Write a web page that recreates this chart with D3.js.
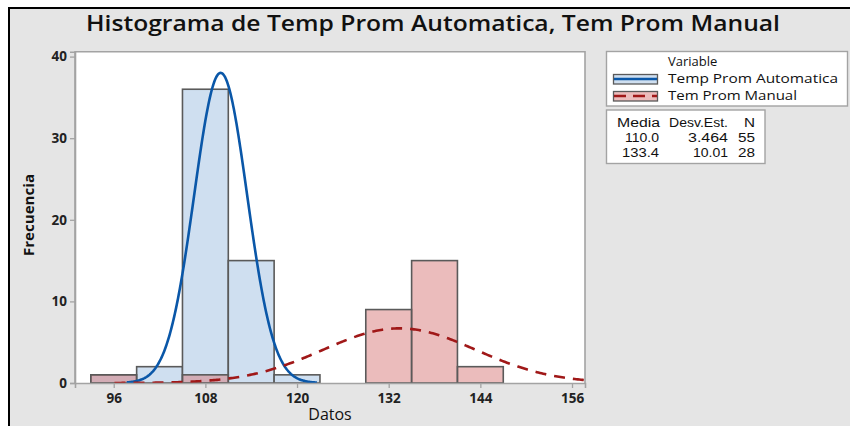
<!DOCTYPE html>
<html><head><meta charset="utf-8">
<script src="https://cdn.jsdelivr.net/npm/d3@7"></script>
<style>html,body{margin:0;padding:0;background:#fff;}svg{display:block;}</style>
</head><body><svg id="c" width="850" height="426"></svg>
<script>
// ---- data ----
const binLower = [93, 99, 105, 111, 117, 123, 129, 135, 141];
const binUpper = [99, 105, 111, 117, 123, 129, 135, 141, 147];
const autoCounts = [1, 2, 36, 15, 1, 0, 0, 0, 0];
const manualCounts = [1, 0, 1, 0, 0, 0, 9, 15, 2];
const seriesNames = ["Temp Prom Automatica", "Tem Prom Manual"];
const means = [110.0, 133.4];
const sds = [3.464, 10.01];
const ns = [55, 28];
const curveFrom = [97.7, 96.1];
const curveTo = [122.6, 158];
const xTicks = [96, 108, 120, 132, 144, 156];
const yTicks = [0, 10, 20, 30, 40];
const tableHeader = ["Media", "Desv.Est.", "N"];
const tableRows = [["110.0", "3.464", "55"], ["133.4", "10.01", "28"]];

const svg = d3.select("#c");
const font = "'Open Sans', 'Noto Sans', sans-serif";
const tfont = "'Liberation Sans', Arial, sans-serif";

// background + border
svg.append("rect").attr("x", 0).attr("y", 0).attr("width", 850).attr("height", 426).attr("fill", "#fff");
svg.append("rect").attr("x", 9).attr("y", 8).attr("width", 841).attr("height", 418).attr("fill", "#e5e5e5");
svg.append("line").attr("x1", 8).attr("x2", 850).attr("y1", 8).attr("y2", 8).attr("stroke", "#000").attr("stroke-width", 2);
svg.append("line").attr("x1", 9).attr("x2", 9).attr("y1", 7).attr("y2", 426).attr("stroke", "#000").attr("stroke-width", 2);

const L = 75, R = 585, T = 51.7, B = 383;
const x = d3.scaleLinear().domain([90.93, 157.7]).range([L, R]);
const y = d3.scaleLinear().domain([0, 40.6]).range([B, T]);

svg.append("rect").attr("x", L).attr("y", T).attr("width", R - L).attr("height", B - T).attr("fill", "#fff");

svg.append("defs").append("clipPath").attr("id", "clip")
  .append("rect").attr("x", L).attr("y", T - 30).attr("width", R - L).attr("height", B - T + 30);

const g = svg.append("g").attr("clip-path", "url(#clip)");

// bars
const binIdx = d3.range(binLower.length);
g.selectAll("rect.auto").data(binIdx.filter(i => autoCounts[i] > 0)).join("rect")
  .attr("class", "auto")
  .attr("x", i => x(binLower[i])).attr("width", i => x(binUpper[i]) - x(binLower[i]))
  .attr("y", i => y(autoCounts[i])).attr("height", i => y(0) - y(autoCounts[i]))
  .attr("fill", "#cfdff0").attr("stroke", "#5a5a5a").attr("stroke-width", 1.6);
g.selectAll("rect.man").data(binIdx.filter(i => manualCounts[i] > 0)).join("rect")
  .attr("class", "man")
  .attr("x", i => x(binLower[i])).attr("width", i => x(binUpper[i]) - x(binLower[i]))
  .attr("y", i => y(manualCounts[i])).attr("height", i => y(0) - y(manualCounts[i]))
  .attr("fill", "rgb(215,121,121)").attr("fill-opacity", 0.5)
  .attr("stroke", "#5a5a5a").attr("stroke-width", 1.6);

// fitted normal curves from the table statistics
const binW = binUpper[0] - binLower[0];
function curvePts(k) {
  const pts = [];
  const steps = 300;
  for (let s = 0; s <= steps; s++) {
    const v = curveFrom[k] + (curveTo[k] - curveFrom[k]) * s / steps;
    const z = (v - means[k]) / sds[k];
    pts.push([v, ns[k] * binW / (sds[k] * Math.sqrt(2 * Math.PI)) * Math.exp(-0.5 * z * z)]);
  }
  return pts;
}
const line = d3.line().x(d => x(d[0])).y(d => y(d[1])).curve(d3.curveLinear);
g.append("path").attr("d", line(curvePts(0))).attr("fill", "none")
  .attr("stroke", "#0a57a8").attr("stroke-width", 2.6);
g.append("path").attr("d", line(curvePts(1))).attr("fill", "none")
  .attr("stroke", "#a01818").attr("stroke-width", 2.6).attr("stroke-dasharray", "11,8");

// frame
svg.append("path").attr("d", `M${L},${B}V${T}H${R}V${B}`).attr("fill", "none").attr("stroke", "#a3a3a3").attr("stroke-width", 1.6);

// axes
const xAxis = svg.append("g").attr("transform", `translate(0,${B})`)
  .call(d3.axisBottom(x).tickValues(xTicks).tickSize(5).tickPadding(5));
const yAxis = svg.append("g").attr("transform", `translate(${L},0)`)
  .call(d3.axisLeft(y).tickValues(yTicks).tickSize(5).tickPadding(3));
[xAxis, yAxis].forEach(a => {
  a.select(".domain").attr("stroke", "#a3a3a3").attr("stroke-width", 1.6);
  a.selectAll(".tick line").attr("stroke", "#a3a3a3").attr("stroke-width", 1.3);
  a.selectAll(".tick text").attr("font-family", font).attr("font-size", 13.5)
    .attr("font-weight", "bold").attr("fill", "#222");
});

// title
svg.append("text").attr("x", 86).attr("y", 31).attr("font-family", font).attr("font-size", 22)
  .attr("font-weight", 600).attr("fill", "#111")
  .attr("textLength", 694).attr("lengthAdjust", "spacingAndGlyphs")
  .text("Histograma de Temp Prom Automatica, Tem Prom Manual");

// axis titles
svg.append("text").attr("x", 330).attr("y", 420).attr("text-anchor", "middle")
  .attr("font-family", font).attr("font-size", 16).attr("fill", "#111").text("Datos");
svg.append("text").attr("transform", "translate(34,215) rotate(-90)").attr("text-anchor", "middle")
  .attr("font-family", font).attr("font-size", 14).attr("font-weight", "bold").attr("fill", "#111")
  .attr("textLength", 82).attr("lengthAdjust", "spacingAndGlyphs").text("Frecuencia");

// legend
svg.append("rect").attr("x", 606.5).attr("y", 51.5).attr("width", 241).attr("height", 54.5)
  .attr("fill", "#fff").attr("stroke", "#a3a3a3").attr("stroke-width", 1.4);
svg.append("text").attr("x", 668).attr("y", 66).attr("font-family", font).attr("font-size", 13)
  .attr("fill", "#111").text("Variable");
const legY = [79, 96];
const legFill = ["#cfdff0", "#ebbcbc"];
const legStroke = ["#0a57a8", "#a01818"];
const legDash = [null, "12,7"];
const legLen = [170, 129];
seriesNames.forEach((nm, i) => {
  svg.append("rect").attr("x", 613.5).attr("y", legY[i] - 4.5).attr("width", 44).attr("height", 9.5)
    .attr("fill", legFill[i]).attr("stroke", "#5a5a5a").attr("stroke-width", 1.3);
  svg.append("line").attr("x1", 614).attr("x2", 657).attr("y1", legY[i]).attr("y2", legY[i])
    .attr("stroke", legStroke[i]).attr("stroke-width", 2.6).attr("stroke-dasharray", legDash[i]);
  svg.append("text").attr("x", 668).attr("y", legY[i] + 4).attr("font-family", font).attr("font-size", 13)
    .attr("fill", "#111").attr("textLength", legLen[i]).attr("lengthAdjust", "spacingAndGlyphs").text(nm);
});

// stats table
svg.append("rect").attr("x", 606.5).attr("y", 110).attr("width", 158.5).attr("height", 53.5)
  .attr("fill", "#fff").attr("stroke", "#a3a3a3").attr("stroke-width", 1.4);
const colRight = [660, 728, 755];
const headLen = [43, 59, 11];
const rowLen = [[34, 40, 17], [37, 35, 17]];
tableHeader.forEach((h, j) => {
  svg.append("text").attr("x", colRight[j]).attr("y", 127).attr("text-anchor", "end")
    .attr("font-family", tfont).attr("font-size", 12.5).attr("fill", "#111")
    .attr("textLength", headLen[j]).attr("lengthAdjust", "spacingAndGlyphs").text(h);
});
tableRows.forEach((row, r) => {
  row.forEach((v, j) => {
    svg.append("text").attr("x", colRight[j] - (j === 0 ? 1 : 0)).attr("y", 142 + r * 15).attr("text-anchor", "end")
      .attr("font-family", tfont).attr("font-size", 12.5).attr("fill", "#111")
      .attr("textLength", rowLen[r][j]).attr("lengthAdjust", "spacingAndGlyphs").text(v);
  });
});
</script>
</body></html>
